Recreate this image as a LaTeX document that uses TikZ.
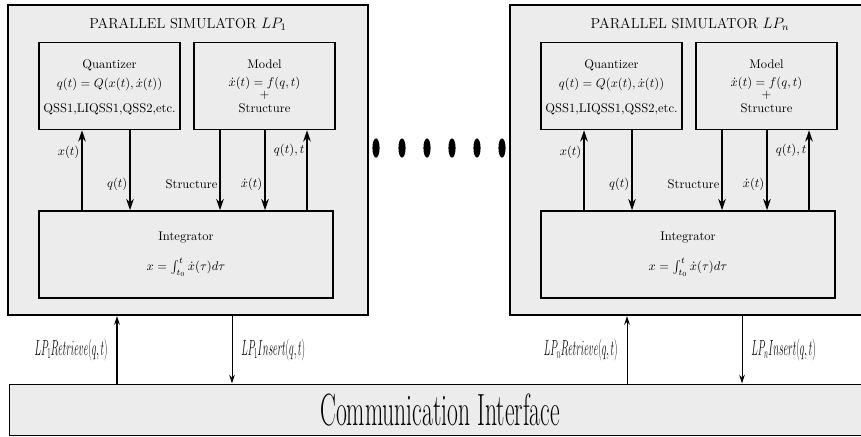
\documentclass[tikz,border=0pt]{standalone}
\usepackage{tikz}
\usetikzlibrary{arrows.meta}
\usetikzlibrary{positioning}
\tikzset{>={Stealth[length=9pt,width=6pt]},
  simbox/.style={draw,line width=1.6pt,fill=gray!15,inner sep=0pt},
  unitbox/.style={draw,line width=1.2pt,fill=gray!15,inner sep=0pt},
  unittext/.style={align=center,inner sep=0pt,anchor=north},
  flow/.style={->,line width=1.2pt},
  lbl/.style={left,inner sep=1.5pt},
  link/.style={->,line width=0.8pt,>={Stealth[length=7pt,width=4.5pt]}}}
\newcommand{\squeeze}[1]{\scalebox{0.455}[1]{\fontsize{17.28}{20}\selectfont #1}}
\newcommand{\simtitle}[1]{\fontsize{11.5}{14}\selectfont PARALLEL SIMULATOR #1}

\begin{document}
\begin{tikzpicture}[x=0.028cm,y=-0.028cm]

  \useasboundingbox (0,0) rectangle (861,436);
  \clip (0,0) rectangle (861,436);

  % simulator LP_1
  \node [simbox,minimum width=10.08cm,minimum height=8.68cm] (sim1) at (188,160) {};
  \node (title1) at (188,24) {\simtitle{$LP_1$}};
  \node [unitbox,minimum width=3.948cm,minimum height=2.436cm] (quant1) at (109.5,86) {};
  \node [unittext] (quant1text) at (109.5,59.5)
    {Quantizer\\[3pt] $q(t)=Q(x(t),\dot{x}(t))$\\[8pt] QSS1,LIQSS1,QSS2,etc.};
  \node [unitbox,minimum width=3.948cm,minimum height=2.436cm] (model1) at (264.5,86) {};
  \node [unittext] (model1text) at (264.5,59.5)
    {Model\\[2pt] $\dot{x}(t)=f(q,t)$\\[-2.4pt] $+$\\[-0.6pt] Structure};
  \node [unitbox,minimum width=8.232cm,minimum height=2.436cm] (integ1) at (186,254.5) {};
  \node [unittext,anchor=center] (integ1text) at (186,254.5)
    {Integrator\\[12pt] $x=\int_{t_0}^{t}\dot{x}(\tau)d\tau$};

  \draw [flow] (integ1.north -| 82,0) -- node[lbl,pos=0.72] {$x(t)$} (quant1.south -| 82,0);
  \draw [flow] (quant1.south -| 130,0) -- node[lbl,pos=0.68] {$q(t)$} (integ1.north -| 130,0);
  \draw [flow] (model1.south -| 220,0) -- node[lbl,pos=0.68] {Structure} (integ1.north -| 220,0);
  \draw [flow] (model1.south -| 265,0) -- node[lbl,pos=0.68] {$\dot{x}(t)$} (integ1.north -| 265,0);
  \draw [flow] (integ1.north -| 307,0) -- node[lbl,pos=0.75] {$q(t),t$} (model1.south -| 307,0);

  % simulator LP_n
  \node [simbox,minimum width=10.08cm,minimum height=8.68cm] (simn) at (690,160) {};
  \node (titlen) at (690,24) {\simtitle{$LP_n$}};
  \node [unitbox,minimum width=3.948cm,minimum height=2.436cm] (quantn) at (611.5,86) {};
  \node [unittext] (quantntext) at (611.5,59.5)
    {Quantizer\\[3pt] $q(t)=Q(x(t),\dot{x}(t))$\\[8pt] QSS1,LIQSS1,QSS2,etc.};
  \node [unitbox,minimum width=3.948cm,minimum height=2.436cm] (modeln) at (766.5,86) {};
  \node [unittext] (modelntext) at (766.5,59.5)
    {Model\\[2pt] $\dot{x}(t)=f(q,t)$\\[-2.4pt] $+$\\[-0.6pt] Structure};
  \node [unitbox,minimum width=8.232cm,minimum height=2.436cm] (integn) at (688,254.5) {};
  \node [unittext,anchor=center] (integntext) at (688,254.5)
    {Integrator\\[12pt] $x=\int_{t_0}^{t}\dot{x}(\tau)d\tau$};

  \draw [flow] (integn.north -| 584,0) -- node[lbl,pos=0.72] {$x(t)$} (quantn.south -| 584,0);
  \draw [flow] (quantn.south -| 632,0) -- node[lbl,pos=0.68] {$q(t)$} (integn.north -| 632,0);
  \draw [flow] (modeln.south -| 722,0) -- node[lbl,pos=0.68] {Structure} (integn.north -| 722,0);
  \draw [flow] (modeln.south -| 767,0) -- node[lbl,pos=0.68] {$\dot{x}(t)$} (integn.north -| 767,0);
  \draw [flow] (integn.north -| 809,0) -- node[lbl,pos=0.75] {$q(t),t$} (modeln.south -| 809,0);

  % dots between the simulators
  \foreach \dx in {376,402,427,452,477,502}
    \fill (\dx,148) ellipse [x radius=0.1cm, y radius=0.27cm];

  % communication interface
  \node [draw,line width=0.8pt,fill=gray!15,minimum width=24.08cm,minimum height=1.428cm,inner sep=0pt]
    (comm) at (440,409.5)
    {\scalebox{0.523}[1]{\fontsize{36}{38}\selectfont Communication Interface}};

  \draw [link] (comm.north -| 117,0) -- node[left,inner sep=7pt] {\squeeze{$LP_1Retrieve(q,t)$}} (sim1.south -| 117,0);
  \draw [link] (sim1.south -| 232,0) -- node[right,inner sep=7pt] {\squeeze{$LP_1Insert(q,t)$}} (comm.north -| 232,0);
  \draw [link] (comm.north -| 627,0) -- node[left,inner sep=7pt] {\squeeze{$LP_nRetrieve(q,t)$}} (simn.south -| 627,0);
  \draw [link] (simn.south -| 742,0) -- node[right,inner sep=7pt] {\squeeze{$LP_nInsert(q,t)$}} (comm.north -| 742,0);

\end{tikzpicture}
\end{document}
